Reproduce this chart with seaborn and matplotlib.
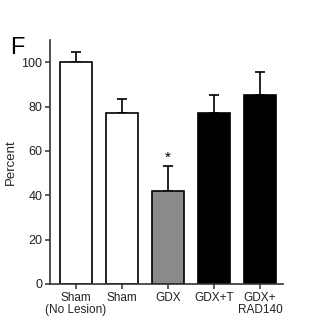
import matplotlib
matplotlib.use("Agg")
import matplotlib.pyplot as plt
import seaborn as sns
import pandas as pd

categories = ["Sham\n(No Lesion)", "Sham", "GDX", "GDX+T", "GDX+\nRAD140"]
values = [100, 77, 42, 77, 85.2]
errors = [4.4, 6.4, 11, 8, 10.5]
colors = ["white", "white", "#8a8a8a", "black", "black"]
yticks = [0, 20, 40, 60, 80, 100]

sns.set_style("white")
plt.rcParams["font.family"] = ["Liberation Sans", "DejaVu Sans"]

fig = plt.figure(figsize=(3.26, 3.34), dpi=100)
ax = fig.add_axes([0.153, 0.150, 0.715, 0.730])

df = pd.DataFrame({"cat": categories, "val": values})
sns.barplot(data=df, x="cat", y="val", hue="cat", palette=colors, legend=False,
            width=0.7, edgecolor="black", linewidth=1.2, ax=ax, saturation=1)
xs = list(range(len(categories)))
ax.errorbar(xs, values, yerr=[[0]*len(errors), errors], fmt="none", ecolor="black",
            elinewidth=1.2, capsize=3.5, capthick=1.2, zorder=0)
ax.text(2, 57, "*", ha="center", va="center", fontsize=11, color="black")

ax.set_ylim(0, 110)
ax.set_xlim(-0.565, 4.5)
ax.set_yticks(yticks)
ax.set_yticklabels([str(t) for t in yticks], fontsize=9, color="#222222")
ax.set_xticks(xs)
ax.set_xticklabels(categories, fontsize=8.5, color="#222222", linespacing=1.1)
ax.set_xlabel("")
ax.set_ylabel("Percent", fontsize=9.5, color="#222222")
ax.yaxis.set_label_coords(-0.14, 0.5)
for s in ["top", "right"]:
    ax.spines[s].set_visible(False)
for s in ["left", "bottom"]:
    ax.spines[s].set_color("#333333")
    ax.spines[s].set_linewidth(1.2)
ax.tick_params(axis="both", direction="out", length=3.5, width=1.1, color="#333333",
               bottom=True, left=True, pad=2)
fig.text(0.03, 0.855, "F", fontsize=17, color="black", ha="left", va="center")

fig.savefig("out.png", dpi=100)
